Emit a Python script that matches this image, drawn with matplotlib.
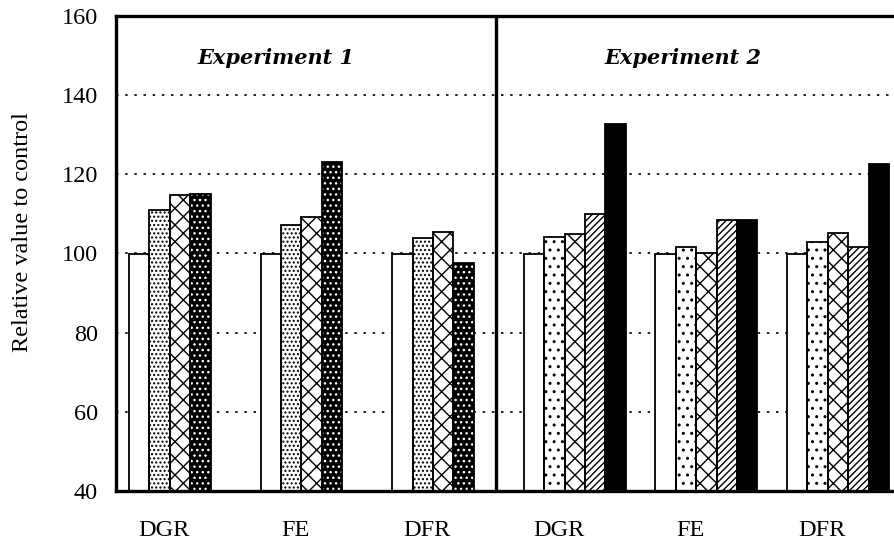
import matplotlib
matplotlib.use("Agg")
import matplotlib.pyplot as plt
import numpy as np

categories = ["DGR", "FE", "DFR"]
exp1_control = [100.0, 100.0, 100.0]
exp1_t1 = [111.0, 107.2, 103.8]
exp1_t2 = [114.9, 109.3, 105.5]
exp1_t3 = [115.1, 123.1, 97.6]
exp2_control = [100.0, 100.0, 100.0]
exp2_t1 = [104.2, 101.6, 102.9]
exp2_t2 = [104.9, 100.2, 105.1]
exp2_t3 = [110.1, 108.4, 101.7]
exp2_t4 = [132.8, 108.4, 122.7]
y_ticks = [40, 60, 80, 100, 120, 140, 160]
exp_titles = ["Experiment 1", "Experiment 2"]

plt.rcParams["font.family"] = ["Liberation Serif", "DejaVu Serif"]
plt.rcParams["hatch.linewidth"] = 1.0

fig = plt.figure(figsize=(8.94, 5.46), dpi=100)
ax = fig.add_axes([116/894, 55/546, 1 - 116/894, (491-16)/546])

BASE = 40
group_starts = 0.64 + 6.45*np.arange(6)
bw = 1.0

# style per series: (facecolor, hatchcolor, hatch)
styles1 = [("white", "black", ""), ("white", "black", "...."), ("white", "black", "xx"), ("black", "white", "...")]
styles2 = [("white", "black", ""), ("white", "black", ".."), ("white", "black", "xx"), ("white", "black", "/////"), ("black", "black", "")]

def draw(series_list, styles, starts):
    for i, (vals, st) in enumerate(zip(series_list, styles)):
        fc, hc, h = st
        x = starts + i*bw
        heights = np.array(vals) - BASE
        ax.bar(x, heights, width=bw, bottom=BASE, align="edge", facecolor=fc,
               edgecolor=hc, hatch=h, linewidth=0, zorder=2)
        ax.bar(x, heights, width=bw, bottom=BASE, align="edge", fill=False,
               edgecolor="black", linewidth=1.3, zorder=3)

draw([exp1_control, exp1_t1, exp1_t2, exp1_t3], styles1, group_starts[:3])
draw([exp2_control, exp2_t1, exp2_t2, exp2_t3, exp2_t4], styles2, group_starts[3:])

ax.set_xlim(0, 778/20.4)
ax.set_ylim(40, 160)
ax.set_yticks(y_ticks)
ax.set_yticklabels([str(v) for v in y_ticks], fontsize=17.5)
ax.tick_params(axis="y", length=0, pad=13)
ax.set_xticks(group_starts + 1.7)
ax.set_xticklabels(categories*2, fontsize=17.5)
ax.tick_params(axis="x", length=0, pad=21)

for y in y_ticks[1:-1]:
    ax.axhline(y, color="black", linewidth=1.2, linestyle=(0, (1.5, 4)), zorder=1)

ax.axvline((496-116)/20.4, color="black", linewidth=2.4, zorder=4)

for s in ["left", "bottom", "top"]:
    ax.spines[s].set_linewidth(2.4)
ax.spines["right"].set_visible(False)

ax.set_ylabel("Relative value to control", fontsize=17.5)
ax.yaxis.set_label_coords((33-116)/778, (491-232)/475)

title_font = dict(family=["DejaVu Serif"], fontsize=15, fontweight="bold", fontstyle="italic",
                  ha="center", va="center")
ax.text((276-116)/20.4, 149.5, exp_titles[0], **title_font)
ax.text((683-116)/20.4, 149.5, exp_titles[1], **title_font)

fig.savefig("out.png", dpi=100)
